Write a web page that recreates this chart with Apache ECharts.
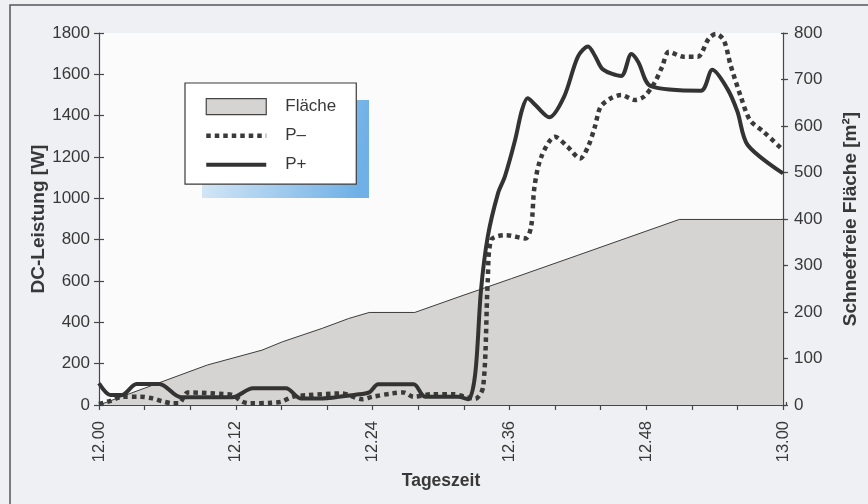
<!DOCTYPE html>
<html>
<head>
<meta charset="utf-8">
<script src="https://cdn.jsdelivr.net/npm/echarts@6/dist/echarts.min.js"></script>
<style>
html,body{margin:0;padding:0;background:#eef0f3;}
#chart{width:868px;height:504px;}
</style>
</head>
<body>
<div id="chart"></div>
<script>
// X ticks are minutes after 12.00
const tickLabels = ['12.00', '12.12', '12.24', '12.36', '12.48', '13.00'];
const leftTicks = [0, 1800, 200];   // min, max, interval  DC-Leistung [W]
const rightTicks = [0, 800, 100];   // min, max, interval  Schneefreie Fläche [m²]

// Schneefreie Fläche [m²]  [minute, value]
const flaeche = [
  [0, 0], [9.5, 86], [14.3, 118], [16.1, 136], [19.6, 165], [21.9, 186], [23.7, 199],
  [27.7, 199], [31.5, 232], [36.2, 272], [42.0, 322], [50.9, 399], [60, 399]
];

// P- [W]
const pMinus = [
  [0, 5], [1.0, 20], [2.1, 40], [3.6, 40], [4.7, 32], [5.5, 19], [6.5, 8], [7.0, 8],
  [7.8, 61], [10.9, 53], [11.7, 48], [12.6, 16], [13.2, 8], [15.1, 11], [16.0, 16],
  [17.0, 40], [18.4, 48], [21.3, 56], [23.1, 28], [24.0, 40], [25.7, 56], [26.7, 61],
  [27.6, 40], [29.2, 52], [31.2, 52], [32.1, 40], [33.0, 30], [33.7, 88], [34.1, 600],
  [34.4, 798], [35.7, 822], [37.4, 806], [37.9, 862], [38.2, 1056], [38.8, 1201],
  [40.0, 1298], [41.1, 1250], [42.2, 1193], [42.9, 1250], [43.5, 1347], [44.0, 1443],
  [44.9, 1484], [45.8, 1500], [47.0, 1476], [47.8, 1492], [48.7, 1556], [49.4, 1637],
  [50.0, 1709], [51.3, 1685], [52.5, 1685], [53.5, 1774], [54.1, 1795], [54.8, 1766],
  [55.4, 1645], [56.3, 1492], [57.1, 1379], [58.3, 1322], [60, 1234]
];

// P+ [W]
const pPlus = [
  [0, 105], [1.0, 48], [2.0, 48], [3.3, 102], [5.3, 102], [7.2, 37], [11.7, 37],
  [13.5, 81], [16.4, 81], [17.7, 32], [19.6, 32], [22.5, 50], [23.7, 61], [24.5, 100],
  [27.6, 100], [28.6, 40], [31.5, 40], [32.4, 28], [33.0, 150], [33.5, 550], [34.1, 814],
  [35.0, 1024], [35.6, 1105], [36.5, 1282], [37.1, 1427], [37.6, 1484], [38.3, 1450],
  [39.5, 1392], [40.8, 1492], [42.0, 1685], [42.9, 1735], [43.5, 1690], [44.2, 1624],
  [45.8, 1592], [46.7, 1698], [47.3, 1660], [48.4, 1543], [52.8, 1521], [53.8, 1622],
  [55.1, 1532], [56.0, 1420], [56.9, 1258], [60, 1121]
];

const font = '"Liberation Sans", Arial, Helvetica, sans-serif';
const txt = '#383838';
const axisCol = '#474747';

function xLabel(v) {
  return v % 12 === 0 ? tickLabels[v / 12] : '';
}
function plain(v) { return String(v); }

const gridBox = {left: 99, right: 82, top: 33, bottom: 99};
const tickStyle = {color: axisCol, width: 1.2};

const chart = echarts.init(document.getElementById('chart'), null, {renderer: 'canvas'});

const option = {
  backgroundColor: '#eef0f3',
  animation: false,
  textStyle: {fontFamily: font},
  grid: [
    Object.assign({show: true, backgroundColor: '#fbfbfb', borderWidth: 0}, gridBox),
    Object.assign({show: false}, gridBox)
  ],
  graphic: [
    {type: 'rect', z: 0, shape: {x: 10, y: 5, width: 880, height: 520},
     style: {fill: 'none', stroke: '#555', lineWidth: 1.5}},
    {type: 'rect', z: 3, shape: {x: 202, y: 100, width: 167, height: 98},
     style: {fill: new echarts.graphic.LinearGradient(0, 0, 1, 0.3, [
       {offset: 0, color: '#dcebf7'}, {offset: 1, color: '#6fb0e6'}])}}
  ],
  legend: {
    z: 5,
    left: 185, top: 83,
    orient: 'vertical',
    padding: [15, 20, 11, 19],
    itemWidth: 60, itemHeight: 16, itemGap: 12,
    backgroundColor: '#ffffff',
    borderColor: '#3a3a3a', borderWidth: 1.2, borderRadius: 0,
    textStyle: {fontSize: 17, color: txt, fontFamily: font, padding: [0, 0, 0, 14]},
    lineStyle: {width: 'inherit', type: 'inherit'},
    data: [
      {name: 'Fläche', icon: 'rect', itemStyle: {color: '#d6d4d2', borderColor: '#444', borderWidth: 1.2, opacity: 1}},
      {name: 'P\u2013'},
      {name: 'P+'}
    ]
  },
  xAxis: [
    {
      gridIndex: 0, type: 'value', min: 0, max: 60, interval: 4,
      name: 'Tageszeit', nameLocation: 'middle', nameGap: 67, nameMoveOverlap: false,
      nameTextStyle: {fontSize: 17.5, fontWeight: 'bold', color: txt, fontFamily: font},
      axisLine: {lineStyle: {color: axisCol, width: 1.2}},
      axisTick: {show: true, length: 5, lineStyle: tickStyle},
      axisLabel: {rotate: 90, margin: 16, fontSize: 16.5, color: txt, formatter: xLabel, showMinLabel: true, showMaxLabel: true},
      splitLine: {show: false}
    },
    {
      gridIndex: 1, type: 'value', min: 0, max: 60, interval: 4, position: 'bottom',
      axisLine: {show: false},
      axisTick: {show: true, inside: true, length: 3, lineStyle: tickStyle},
      axisLabel: {show: false}, splitLine: {show: false}
    }
  ],
  yAxis: [
    {
      gridIndex: 0, type: 'value', position: 'left', min: leftTicks[0], max: leftTicks[1], interval: leftTicks[2],
      name: 'DC-Leistung [W]', nameLocation: 'middle', nameGap: 51, nameRotate: 90, nameMoveOverlap: false,
      nameTextStyle: {fontSize: 19, fontWeight: 'bold', color: txt, fontFamily: font},
      axisLine: {show: true, lineStyle: {color: axisCol, width: 1.2}},
      axisTick: {show: true, length: 5, lineStyle: tickStyle},
      axisLabel: {margin: 9, fontSize: 17, color: txt, formatter: plain},
      splitLine: {show: false}
    },
    {
      gridIndex: 0, type: 'value', position: 'right', min: rightTicks[0], max: rightTicks[1], interval: rightTicks[2],
      name: 'Schneefreie Fläche [m²]', nameLocation: 'middle', nameGap: 58, nameRotate: 90, nameMoveOverlap: false,
      nameTextStyle: {fontSize: 19, fontWeight: 'bold', color: txt, fontFamily: font},
      axisLine: {show: true, lineStyle: {color: axisCol, width: 1.2}},
      axisTick: {show: true, length: 5, lineStyle: tickStyle},
      axisLabel: {margin: 11, fontSize: 17, color: txt, formatter: plain},
      splitLine: {show: false}
    },
    {
      gridIndex: 1, type: 'value', position: 'left', min: leftTicks[0], max: leftTicks[1], interval: leftTicks[2],
      axisLine: {show: false},
      axisTick: {show: true, inside: true, length: 5, lineStyle: tickStyle},
      axisLabel: {show: false}, splitLine: {show: false}
    },
    {
      gridIndex: 1, type: 'value', position: 'right', min: rightTicks[0], max: rightTicks[1], interval: rightTicks[2],
      axisLine: {show: false},
      axisTick: {show: true, inside: true, length: 5, lineStyle: tickStyle},
      axisLabel: {show: false}, splitLine: {show: false}
    }
  ],
  series: [
    {
      name: 'Fläche', type: 'line', xAxisIndex: 0, yAxisIndex: 1, data: flaeche,
      symbol: 'none', z: 1,
      lineStyle: {color: '#3c3c3c', width: 1},
      itemStyle: {color: '#d6d4d2'},
      areaStyle: {color: '#d6d4d2', opacity: 1}
    },
    {
      name: 'P\u2013', type: 'line', xAxisIndex: 0, yAxisIndex: 0, data: pMinus,
      symbol: 'none', smooth: 0.3, z: 2,
      lineStyle: {color: '#3a3a3a', width: 4.5, type: [4.5, 4]},
      itemStyle: {color: '#3a3a3a', opacity: 0}
    },
    {
      name: 'P+', type: 'line', xAxisIndex: 0, yAxisIndex: 0, data: pPlus,
      symbol: 'none', smooth: 0.3, z: 3,
      lineStyle: {color: '#333333', width: 4},
      itemStyle: {color: '#333333', opacity: 0}
    }
  ]
};
chart.setOption(option);
</script>
</body>
</html>
